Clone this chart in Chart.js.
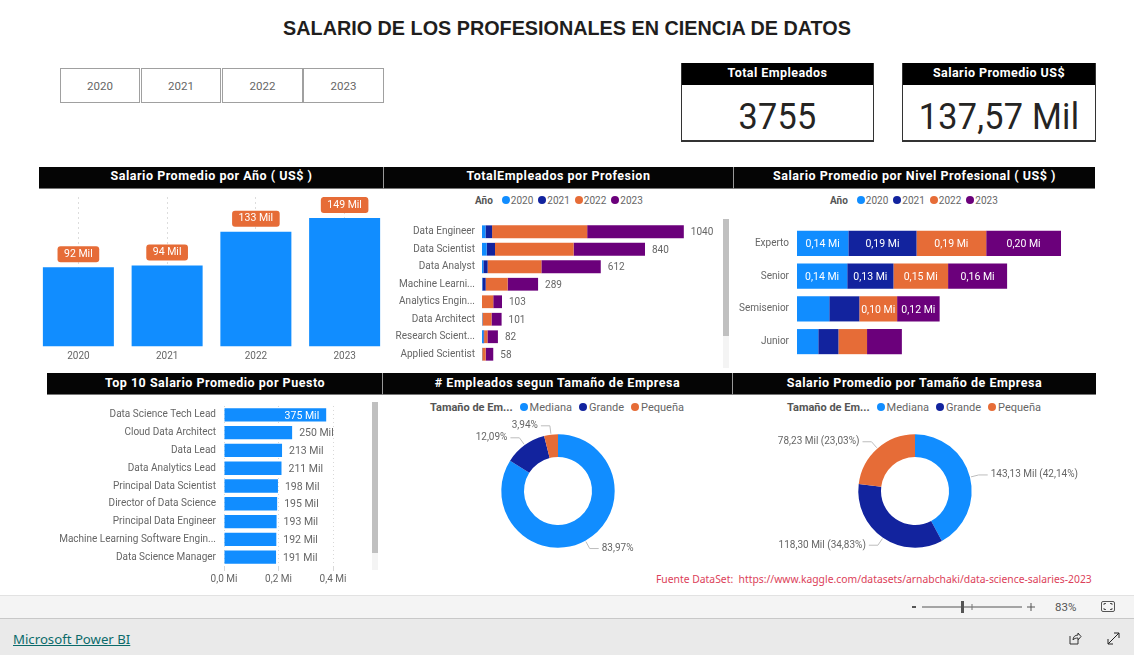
<!DOCTYPE html>
<html lang="es">
<head>
<meta charset="utf-8">
<title>Salario de los profesionales en ciencia de datos</title>
<script src="https://cdn.jsdelivr.net/npm/chart.js@4"></script>
<style>
    html, body { margin: 0; padding: 0; background: #fff; overflow: hidden; }
    #page { position: relative; width: 1134px; height: 655px; overflow: hidden; font-family: Roboto, sans-serif; }
    #page > * { position: absolute; }
    canvas { display: block; }
    #title { left: 0; width: 1134px; top: 17px; text-align: center; font: bold 19.8px "Liberation Sans", sans-serif; color: #1f1e1d; }
    .slicer { top: 68px; width: 78px; height: 33px; border: 1px solid #a0a0a0; text-align: center; line-height: 34px; font-size: 11.5px; color: #666; }
    .head { background: #050505; color: #fff; text-align: center; font: bold 12.5px Roboto, sans-serif; letter-spacing: .52px; border-bottom: 1px solid #777; box-sizing: border-box; z-index: 3; }
    .row1 { top: 167px; height: 22px; line-height: 18px; }
    .row2 { top: 373px; height: 22px; line-height: 19px; }
    .mid { border-left: 1px solid #999; border-right: 1px solid #999; }
    .card { top: 63px; height: 79px; box-sizing: border-box; border: 1px solid #333; border-top: 0; border-bottom-width: 2px; text-align: center; }
    .card .cap { background: #000; color: #fff; height: 22px; font: bold 12.5px/19px Roboto, sans-serif; letter-spacing: .45px; }
    .card .num { font: 36px/65px Roboto, sans-serif; color: #252423; letter-spacing: .3px; transform: scaleX(.95); }
    .legend { display: flex; align-items: center; height: 14px; font-size: 10px; color: #666; white-space: nowrap; }
    .legend b { margin-right: 9px; color: #555; font-size: 10px; }
    .legend i { width: 8px; height: 8px; border-radius: 50%; margin-right: 1px; }
    .legend span { margin-right: 5px; }
    .wide { font-size: 11px; }
    .wide b { font-size: 11px; margin-right: 7px; }
    .wide i { margin-right: 2px; }
    .wide span { margin-right: 7px; }
    .scroll { width: 6px; background: #f4f4f4; }
    .scroll div { width: 6px; background: #c0c0c0; }
    #source { left: 656px; top: 572px; font: 10.35px "Noto Sans", sans-serif; color: #dc3f5a; white-space: pre; }
    #band1 { left: 0; top: 595px; width: 1134px; height: 22px; background: #f4f4f4; border-top: 1px solid #e2e2e2; }
    #band2 { left: 0; top: 618px; width: 1134px; height: 37px; background: #eaeaea; border-top: 1px solid #c8c8c8; }
    #pbi { left: 13px; top: 630px; font: 13.2px "Noto Sans", sans-serif; color: #0b6a6a; text-decoration: underline; }
    #zoomPct { left: 1055px; top: 600px; font-size: 11.5px; color: #555; }
</style>
</head>
<body>
<div id="page">
    <div id="title">SALARIO DE LOS PROFESIONALES EN CIENCIA DE DATOS</div>

    <div class="slicer" style="left:60px">2020</div>
    <div class="slicer" style="left:141px">2021</div>
    <div class="slicer" style="left:222px;width:79px">2022</div>
    <div class="slicer" style="left:303px;width:79px">2023</div>

    <div class="card" style="left:681px;width:193px"><div class="cap">Total Empleados</div><div class="num">3755</div></div>
    <div class="card" style="left:902px;width:194px"><div class="cap">Salario Promedio US$</div><div class="num">137,57 Mil</div></div>

    <div class="head row1" style="left:39px;width:345px">Salario Promedio por Año ( US$ )</div>
    <div class="head row1 mid" style="left:383px;width:351px">TotalEmpleados por Profesion</div>
    <div class="head row1" style="left:734px;width:361px">Salario Promedio por Nivel Profesional ( US$ )</div>
    <div class="head row2" style="left:47px;width:336px">Top 10 Salario Promedio por Puesto</div>
    <div class="head row2 mid" style="left:382px;width:351px"># Empleados segun Tamaño de Empresa</div>
    <div class="head row2" style="left:733px;width:363px">Salario Promedio por Tamaño de Empresa</div>

    <div class="legend" id="legendProf" style="left:475px;top:193px"></div>
    <div class="legend" id="legendNivel" style="left:830px;top:193px"></div>
    <div class="legend wide" id="legendCount" style="left:430px;top:400px"></div>
    <div class="legend wide" id="legendSalary" style="left:787px;top:400px"></div>

    <canvas id="yearChart" width="355" height="167" style="left:34px;top:197px"></canvas>
    <canvas id="profChart" width="350" height="140" style="left:380px;top:223px"></canvas>
    <canvas id="nivelChart" width="360" height="131" style="left:735px;top:227px"></canvas>
    <canvas id="topChart" width="312" height="184" style="left:48px;top:406px"></canvas>
    <canvas id="countChart" width="356" height="162" style="left:380px;top:410px"></canvas>
    <canvas id="salaryChart" width="360" height="162" style="left:735px;top:410px"></canvas>

    <div class="scroll" style="left:723px;top:219px;height:149px"><div style="height:117px"></div></div>
    <div class="scroll" style="left:372px;top:402px;height:168px"><div style="height:151px"></div></div>

    <div id="source">Fuente DataSet:  https://www.kaggle.com/datasets/arnabchaki/data-science-salaries-2023</div>

    <div id="band1"></div>
    <div id="band2"></div>
    <svg style="left:910px;top:600px" width="125" height="14">
        <rect x="2" y="6" width="4" height="2" fill="#555"/>
        <line x1="12" y1="7" x2="112" y2="7" stroke="#555"/>
        <rect x="51" y="1" width="3" height="12" fill="#555"/>
        <line x1="62" y1="4" x2="62" y2="10" stroke="#777"/>
        <path d="M117 7h8M121 3v8" stroke="#555" fill="none"/>
    </svg>
    <div id="zoomPct">83%</div>
    <svg style="left:1100px;top:600px" width="16" height="13">
        <rect x="1.5" y="1.5" width="13" height="10" rx="1.5" fill="none" stroke="#555"/>
        <path d="M4 5V3.5H6M10 3.5h2V5M12 8v1.5h-2M6 9.500H4V8" fill="none" stroke="#555"/>
    </svg>
    <div id="pbi">Microsoft Power BI</div>
    <svg style="left:1067px;top:631px" width="15" height="15">
        <path d="M3 5v8h8V9M6 9c0-3 2-5 5-5V2l3 3.500-3 3.500V7C9 7 7 7.500 6 9z" fill="none" stroke="#333"/>
    </svg>
    <svg style="left:1106px;top:631px" width="15" height="15">
        <path d="M2 13L13 2M8 2h5v5M2 8v5h5" fill="none" stroke="#222"/>
    </svg>
</div>

<script>
// ----------------------------- Chart data -----------------------------------
const BLUE = "#118DFF", NAVY = "#12239E", ORANGE = "#E66C37", PURPLE = "#6B007B";
const TEXT_COLOR = "#666666";
const FONT_FAMILY = "Roboto, sans-serif";

const years = ["2020", "2021", "2022", "2023"];
const yearColors = [BLUE, NAVY, ORANGE, PURPLE];

// Salario promedio por año (miles US$)
const salaryByYear = [92, 94, 133, 149];

// Empleados por profesion, one list per year
const professions = ["Data Engineer", "Data Scientist", "Data Analyst", "Machine Learni...",
    "Analytics Engin...", "Data Architect", "Research Scient...", "Applied Scientist"];
const prof2020 = [18, 24, 7, 2, 0, 2, 7, 1];
const prof2021 = [34, 43, 22, 17, 0, 0, 4, 0];
const prof2022 = [490, 405, 277, 113, 58, 47, 17, 18];
const prof2023 = [498, 368, 306, 157, 45, 52, 54, 39];

// Salario por nivel (millones US$)
const levels = ["Experto", "Senior", "Semisenior", "Junior"];
const level2020 = [0.14, 0.137, 0.088, 0.058];
const level2021 = [0.186, 0.126, 0.082, 0.055];
const level2022 = [0.19, 0.149, 0.103, 0.078];
const level2023 = [0.204, 0.161, 0.116, 0.095];

// Top puestos (miles US$)
const jobs = ["Data Science Tech Lead", "Cloud Data Architect", "Data Lead", "Data Analytics Lead",
    "Principal Data Scientist", "Director of Data Science", "Principal Data Engineer",
    "Machine Learning Software Engin...", "Data Science Manager"];
const jobSalaries = [375, 250, 213, 211, 198, 195, 193, 192, 191];
const jobTicks = ["0,0 Mi", "0,2 Mi", "0,4 Mi"];

// Tamaño de empresa
const companySizes = ["Mediana", "Grande", "Pequeña"];
const sizeColors = [BLUE, NAVY, ORANGE];
const sizeCountShare = [83.97, 12.09, 3.94];
const sizeSalary = [143.13, 118.30, 78.23];

// ----------------------------- Helpers --------------------------------------
Chart.defaults.animation = false;
Chart.defaults.responsive = false;
Chart.defaults.devicePixelRatio = 1;
Chart.defaults.font.family = FONT_FAMILY;
Chart.defaults.font.size = 10;
Chart.defaults.color = TEXT_COLOR;
Chart.defaults.plugins.legend.display = false;
Chart.defaults.plugins.tooltip.enabled = false;
Chart.defaults.layout.autoPadding = false;

const comma = (num, digits) => num.toFixed(digits).replace(".", ",");

function fillLegend(id, title, names, colors) {
    const box = document.getElementById(id);
    box.innerHTML = `<b>${title}</b>` + names.map((name, i) =>
        `<i style="background:${colors[i]}"></i><span>${name}</span>`).join("");
}

// Fixed gutter for the category labels so bars start where they should
function categoryAxis(width, padding) {
    return {
        afterFit: (scale) => {
            scale.width = width;
            // labels sit inside their rows, no need to reserve room for them
            scale.paddingTop = 0;
            scale.paddingBottom = 0;
        },
        grid: { display: false, drawTicks: false },
        border: { display: false },
        ticks: { padding: padding, autoSkip: false, font: { size: 10 } },
    };
}

const hiddenValueAxis = (max) => ({ display: false, min: 0, max: max, stacked: true });

// ----------------------------- Salario por año ------------------------------
const pillLabels = {
    id: "pillLabels",
    afterDatasetsDraw(chart) {
        const { ctx } = chart;
        ctx.save();
        ctx.font = "10.5px " + FONT_FAMILY;
        ctx.textAlign = "center";
        ctx.textBaseline = "middle";
        chart.getDatasetMeta(0).data.forEach((bar, i) => {
            const text = salaryByYear[i] + " Mil";
            const w = ctx.measureText(text).width + 13;
            ctx.fillStyle = ORANGE;
            ctx.beginPath();
            ctx.roundRect(bar.x - w / 2, bar.y - 21, w, 16, 3);
            ctx.fill();
            ctx.fillStyle = "#fff";
            ctx.fillText(text, bar.x, bar.y - 13);
        });
        ctx.restore();
    },
};

new Chart(document.getElementById("yearChart"), {
    type: "bar",
    data: {
        labels: years,
        datasets: [{ data: salaryByYear, backgroundColor: BLUE, barPercentage: 0.8, categoryPercentage: 1 }],
    },
    options: {
        scales: {
            x: {
                afterFit: (scale) => { scale.height = 17.5; },
                grid: { offset: false, drawTicks: false, color: "#dddddd" },
                border: { display: false, dash: [2, 3] },
                ticks: { padding: 4 },
            },
            y: { display: false, min: 0, max: 173.3 },
        },
    },
    plugins: [pillLabels],
});

// ----------------------------- Empleados por profesion ----------------------
const stackTotals = {
    id: "stackTotals",
    afterDatasetsDraw(chart) {
        const { ctx } = chart;
        const last = chart.data.datasets.length - 1;
        ctx.save();
        ctx.font = "10px " + FONT_FAMILY;
        ctx.fillStyle = TEXT_COLOR;
        ctx.textBaseline = "middle";
        chart.getDatasetMeta(last).data.forEach((bar, i) => {
            const total = chart.data.datasets.reduce((sum, ds) => sum + ds.data[i], 0);
            ctx.fillText(total, bar.x + 7, bar.y + 1);
        });
        ctx.restore();
    },
};

new Chart(document.getElementById("profChart"), {
    type: "bar",
    data: {
        labels: professions,
        datasets: [prof2020, prof2021, prof2022, prof2023].map((values, i) => ({
            label: years[i], data: values, backgroundColor: yearColors[i], barPercentage: 0.73, categoryPercentage: 1,
        })),
    },
    options: {
        indexAxis: "y",
        scales: {
            x: hiddenValueAxis(1278),
            y: Object.assign(categoryAxis(102, 7), { stacked: true }),
        },
    },
    plugins: [stackTotals],
});

// ----------------------------- Salario por nivel ----------------------------
const segmentLabels = {
    id: "segmentLabels",
    afterDatasetsDraw(chart) {
        const { ctx } = chart;
        ctx.save();
        ctx.font = "10.5px " + FONT_FAMILY;
        ctx.fillStyle = "#fff";
        ctx.textAlign = "center";
        ctx.textBaseline = "middle";
        chart.data.datasets.forEach((ds, d) => {
            chart.getDatasetMeta(d).data.forEach((bar, i) => {
                const w = bar.width;
                if (w < 36) return; // Power BI drops labels that do not fit
                ctx.fillText(comma(ds.data[i], 2) + " Mi", bar.x - w / 2, bar.y + 1);
            });
        });
        ctx.restore();
    },
};

new Chart(document.getElementById("nivelChart"), {
    type: "bar",
    data: {
        labels: levels,
        datasets: [level2020, level2021, level2022, level2023].map((values, i) => ({
            label: years[i], data: values, backgroundColor: yearColors[i], barPercentage: 0.767, categoryPercentage: 1,
        })),
    },
    options: {
        indexAxis: "y",
        scales: {
            x: hiddenValueAxis(0.8127),
            y: Object.assign(categoryAxis(62, 8), { stacked: true }),
        },
    },
    plugins: [segmentLabels],
});

// ----------------------------- Top puestos ----------------------------------
const jobLabels = {
    id: "jobLabels",
    afterDatasetsDraw(chart) {
        const { ctx } = chart;
        ctx.save();
        ctx.font = "10.5px " + FONT_FAMILY;
        ctx.textBaseline = "middle";
        chart.getDatasetMeta(0).data.forEach((bar, i) => {
            const text = jobSalaries[i] + " Mil";
            // the longest bar keeps its label inside
            if (jobSalaries[i] > 300) {
                ctx.fillStyle = "#fff";
                ctx.textAlign = "right";
                ctx.fillText(text, bar.x - 7, bar.y + 1);
            } else {
                ctx.fillStyle = TEXT_COLOR;
                ctx.textAlign = "left";
                ctx.fillText(text, bar.x + 7, bar.y + 1);
            }
        });
        ctx.restore();
    },
};

new Chart(document.getElementById("topChart"), {
    type: "bar",
    data: {
        labels: jobs,
        datasets: [{ data: jobSalaries, backgroundColor: BLUE, barPercentage: 0.75, categoryPercentage: 1 }],
    },
    options: {
        indexAxis: "y",
        layout: { padding: { right: 27 } },
        scales: {
            x: {
                min: 0,
                max: 400,
                afterFit: (scale) => { scale.height = 24; },
                grid: { color: "#d8d8d8", tickLength: 5 },
                border: { display: false, dash: [1, 3] },
                ticks: {
                    stepSize: 200,
                    maxRotation: 0,
                    padding: 2,
                    callback: (value, i) => jobTicks[i],
                },
            },
            y: categoryAxis(176, 8),
        },
    },
    plugins: [jobLabels],
});

// ----------------------------- Donas ----------------------------------------
function leaderLabels(format) {
    return {
        id: "leaderLabels",
        afterDatasetsDraw(chart) {
            const { ctx } = chart;
            ctx.save();
            ctx.font = "10px " + FONT_FAMILY;
            ctx.textBaseline = "middle";
            chart.getDatasetMeta(0).data.forEach((arc, i) => {
                const mid = (arc.startAngle + arc.endAngle) / 2;
                const r = arc.outerRadius;
                const side = Math.cos(mid) >= 0 ? 1 : -1;
                const ex = arc.x + Math.cos(mid) * (r + 9);
                const ey = arc.y + Math.sin(mid) * (r + 9);
                ctx.strokeStyle = "#bdbdbd";
                ctx.beginPath();
                ctx.moveTo(arc.x + Math.cos(mid) * (r + 1), arc.y + Math.sin(mid) * (r + 1));
                ctx.lineTo(ex, ey);
                ctx.lineTo(ex + side * 9, ey);
                ctx.stroke();
                ctx.fillStyle = TEXT_COLOR;
                ctx.textAlign = side > 0 ? "left" : "right";
                ctx.fillText(format(i), ex + side * 12, ey);
            });
            ctx.restore();
        },
    };
}

function doughnut(id, values, format) {
    new Chart(document.getElementById(id), {
        type: "doughnut",
        data: {
            labels: companySizes,
            datasets: [{ data: values, backgroundColor: sizeColors, borderWidth: 0 }],
        },
        options: { cutout: "60%", layout: { padding: { top: 24.3, bottom: 24.3 } } },
        plugins: [leaderLabels(format)],
    });
}

const salaryTotal = sizeSalary.reduce((sum, v) => sum + v, 0);
doughnut("countChart", sizeCountShare, (i) => comma(sizeCountShare[i], 2) + "%");
doughnut("salaryChart", sizeSalary, (i) =>
    `${comma(sizeSalary[i], 2)} Mil (${comma(sizeSalary[i] / salaryTotal * 100, 2)}%)`);

// ----------------------------- Leyendas -------------------------------------
fillLegend("legendProf", "Año", years, yearColors);
fillLegend("legendNivel", "Año", years, yearColors);
fillLegend("legendCount", "Tamaño de Em...", companySizes, sizeColors);
fillLegend("legendSalary", "Tamaño de Em...", companySizes, sizeColors);
</script>
</body>
</html>
